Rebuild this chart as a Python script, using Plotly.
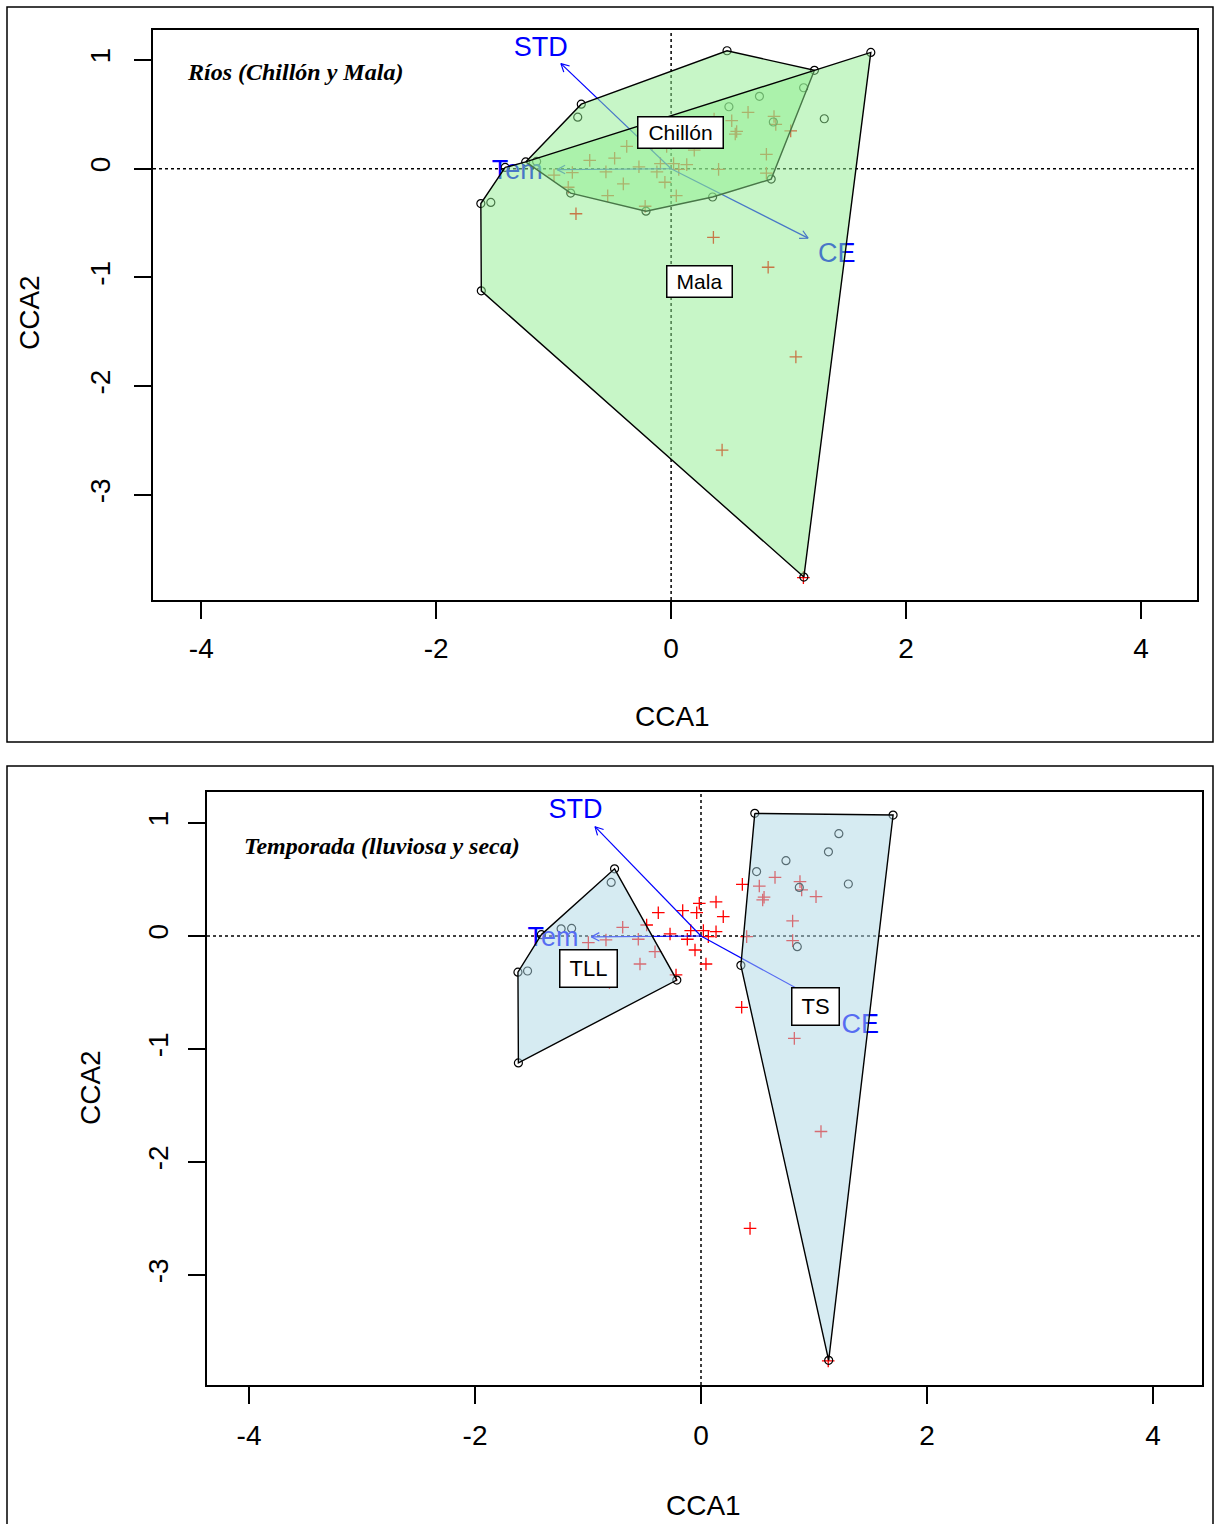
import math
import plotly.graph_objects as go

W, H = 1214, 1524

# ---- CCA scores -------------------------------------------------------
# species scores (red "+")
spp_x = [0.366, 0.655, 0.516, 0.876, 0.891, 0.558, 0.546, 1.018, 0.811, 0.811,
         0.404, 0.133, -0.015, -0.038, 0.197, -0.162, -0.378, 0.021, 0.133, -0.091,
         0.065, -0.121, -0.053, 0.044, -0.274, -0.481, -0.693, -0.555, -0.407, -0.540,
         -0.841, -0.997, -0.221, 0.360, 0.826, 1.062, 0.434, 1.126, -0.876, -0.810]
spp_y = [0.457, 0.519, 0.442, 0.481, 0.408, 0.343, 0.319, 0.348, 0.133, -0.041,
         -0.006, 0.301, 0.289, 0.206, 0.171, 0.224, 0.206, 0.047, 0.038, 0.047,
         -0.006, -0.029, -0.124, -0.248, 0.018, 0.097, 0.077, -0.029, -0.139, -0.248,
         -0.035, -0.059, -0.345, -0.631, -0.906, -1.730, -2.587, -3.760, -0.170, -0.414]

# site scores (open circles)
site_x = [0.476, 1.700, 1.220, 1.128, 0.752, 0.492, 0.870, 1.304, -0.765, -0.795,
          -1.238, -1.145, -1.413, -1.620, -1.535, -0.855, -0.214, 0.353, 0.852, -1.616,
          1.130]
site_y = [1.085, 1.070, 0.905, 0.745, 0.666, 0.570, 0.430, 0.460, 0.594, 0.474,
          0.063, 0.067, 0.012, -0.320, -0.310, -0.224, -0.390, -0.260, -0.095, -1.123,
          -3.755]

# environmental biplot arrows
env_names = ["STD", "Tem", "CE"]
env_x = [-0.938, -0.970, 1.166]
env_y = [0.967, -0.008, -0.638]
env_lab_x = [-1.11, -1.31, 1.41]
env_lab_y = [1.10, -0.03, -0.80]

# convex hulls (site indices, in drawing order)
hull_chillon = [10, 8, 0, 2, 18, 17, 16, 15]
hull_mala = [12, 10, 2, 1, 20, 19, 13]
hull_tll = [12, 8, 16, 19, 13]
hull_ts = [0, 1, 20, 17]

# group labels
rio_names = ["Chillón", "Mala"]
rio_lab_x = [0.077, 0.239]
rio_lab_y = [0.331, -1.040]
temp_names = ["TLL", "TS"]
temp_lab_x = [-1.000, 1.009]
temp_lab_y = [-0.292, -0.628]

x_ticks = [-4, -2, 0, 2, 4]
y_ticks = [1, 0, -1, -2, -3]

panel_titles = ["Ríos (Chillón y Mala)", "Temporada (lluviosa y seca)"]

# ---- panel geometry --------------------------------------------------
X1_DOM = [153 / W, 1197 / W]
Y1_DOM = [1 - 600 / H, 1 - 30 / H]
X1_RNG = [-4.411, 4.477]
Y1_RNG = [-3.966, 1.276]

X2_DOM = [207 / W, 1202 / W]
Y2_DOM = [1 - 1385 / H, 1 - 792 / H]
X2_RNG = [-4.372, 4.434]
Y2_RNG = [-3.973, 1.274]

SANS = "Liberation Sans, Arial, sans-serif"
SERIF = "Liberation Serif, Times New Roman, serif"
BLUE = "#0000FF"


def scale(xr, yr, xd, yd):
    return ((xd[1] - xd[0]) * W / (xr[1] - xr[0]),
            (yd[1] - yd[0]) * H / (yr[1] - yr[0]))


def arrows(sx, sy, head=9.0, ang=math.radians(28)):
    """Biplot arrow shafts from the origin plus open V heads."""
    xs, ys = [], []
    for x1, y1 in zip(env_x, env_y):
        xs += [0, x1, None]
        ys += [0, y1, None]
        px, py = x1 * sx, y1 * sy
        L = math.hypot(px, py)
        ux, uy = px / L, py / L
        hx, hy = [], []
        for s in (1, -1):
            c, sn = math.cos(s * ang), math.sin(s * ang)
            bx, by = ux * c - uy * sn, ux * sn + uy * c
            hx.append(x1 - head * bx / sx)
            hy.append(y1 - head * by / sy)
        xs += [hx[0], x1, hx[1], None]
        ys += [hy[0], y1, hy[1], None]
    return xs, ys


def hull(idx):
    return ([site_x[i] for i in idx] + [site_x[idx[0]]],
            [site_y[i] for i in idx] + [site_y[idx[0]]])


fig = go.Figure()


def add_panel(xa, ya, sx, sy, hulls):
    fig.add_trace(go.Scatter(x=spp_x, y=spp_y, mode="markers", xaxis=xa, yaxis=ya,
                             marker=dict(symbol="cross-thin-open", size=9, color="red",
                                         line=dict(color="red", width=1.3))))
    fig.add_trace(go.Scatter(x=site_x, y=site_y, mode="markers", xaxis=xa, yaxis=ya,
                             marker=dict(symbol="circle-open", size=8, color="black",
                                         line=dict(color="black", width=1.2))))
    ax, ay = arrows(sx, sy)
    fig.add_trace(go.Scatter(x=ax, y=ay, mode="lines", xaxis=xa, yaxis=ya,
                             line=dict(color=BLUE, width=1.2)))
    fig.add_trace(go.Scatter(x=env_lab_x, y=env_lab_y, text=env_names, mode="text",
                             xaxis=xa, yaxis=ya, textposition="middle center",
                             textfont=dict(family=SANS, size=27, color=BLUE)))
    for idx, fill in hulls:
        hx, hy = hull(idx)
        fig.add_trace(go.Scatter(x=hx, y=hy, mode="lines", fill="toself",
                                 fillcolor=fill, xaxis=xa, yaxis=ya,
                                 line=dict(color="black", width=1.4)))


sx1, sy1 = scale(X1_RNG, Y1_RNG, X1_DOM, Y1_DOM)
sx2, sy2 = scale(X2_RNG, Y2_RNG, X2_DOM, Y2_DOM)
GREEN = "rgba(144,238,144,0.5)"
LBLUE = "rgba(173,216,230,0.5)"
add_panel("x", "y", sx1, sy1, [(hull_chillon, GREEN), (hull_mala, GREEN)])
add_panel("x2", "y2", sx2, sy2, [(hull_tll, LBLUE), (hull_ts, LBLUE)])

axis_common = dict(showgrid=False, zeroline=False, showline=True, mirror=True,
                   linecolor="black", linewidth=1.5, ticks="outside", ticklen=17,
                   tickwidth=1.5, tickcolor="black",
                   tickfont=dict(family=SANS, size=28, color="black"))


def xt(standoff):
    return dict(tickmode="array", tickvals=x_ticks, ticktext=[str(v) for v in x_ticks],
                ticklabelstandoff=standoff)


def yt(standoff):
    return dict(tickmode="array", tickvals=y_ticks, ticktext=[str(v) for v in y_ticks],
                tickangle=-90, ticklabelstandoff=standoff)


fig.update_layout(
    width=W, height=H, autosize=False, showlegend=False,
    margin=dict(l=0, r=0, t=0, b=0),
    paper_bgcolor="white", plot_bgcolor="white",
    xaxis=dict(domain=X1_DOM, range=X1_RNG, anchor="y", **axis_common, **xt(6)),
    yaxis=dict(domain=Y1_DOM, range=Y1_RNG, anchor="x", **axis_common, **yt(13)),
    xaxis2=dict(domain=X2_DOM, range=X2_RNG, anchor="y2", **axis_common, **xt(8)),
    yaxis2=dict(domain=Y2_DOM, range=Y2_RNG, anchor="x2", **axis_common, **yt(9)),
)

shapes = []
# dotted reference lines through the origin
for xr, yr in (("x", "y"), ("x2", "y2")):
    shapes.append(dict(type="line", xref=xr, yref=yr + " domain", x0=0, x1=0, y0=0, y1=1,
                       line=dict(color="black", width=1.5, dash="dot"), layer="below"))
    shapes.append(dict(type="line", xref=xr + " domain", yref=yr, x0=0, x1=1, y0=0, y1=0,
                       line=dict(color="black", width=1.5, dash="dot"), layer="below"))
# panel frames
shapes.append(dict(type="rect", xref="paper", yref="paper", x0=7 / W, x1=1213 / W,
                   y0=1 - 742 / H, y1=1 - 7 / H, line=dict(color="black", width=1.5)))
shapes.append(dict(type="rect", xref="paper", yref="paper", x0=7 / W, x1=1213 / W,
                   y0=-0.02, y1=1 - 766 / H, line=dict(color="black", width=1.5)))
fig.update_layout(shapes=shapes)

ann = []
for name, x, y, bw in zip(rio_names, rio_lab_x, rio_lab_y, (78, 58)):
    ann.append(dict(x=x, y=y, xref="x", yref="y", text=name, showarrow=False,
                    xanchor="center", yanchor="middle", width=bw, height=24,
                    font=dict(family=SANS, size=21, color="black"), bgcolor="white",
                    bordercolor="black", borderwidth=1.5, borderpad=3))
for name, x, y, bw in zip(temp_names, temp_lab_x, temp_lab_y, (50, 40)):
    ann.append(dict(x=x, y=y, xref="x2", yref="y2", text=name, showarrow=False,
                    xanchor="center", yanchor="middle", width=bw, height=30,
                    font=dict(family=SANS, size=22, color="black"), bgcolor="white",
                    bordercolor="black", borderwidth=1.5, borderpad=3))
# panel captions
ann.append(dict(x=185 / W, y=1 - 72 / H, xref="paper", yref="paper", xanchor="left",
                yanchor="middle", text="<b><i>" + panel_titles[0] + "</i></b>",
                showarrow=False, font=dict(family=SERIF, size=24, color="black")))
ann.append(dict(x=242 / W, y=1 - 846 / H, xref="paper", yref="paper", xanchor="left",
                yanchor="middle", text="<b><i>" + panel_titles[1] + "</i></b>",
                showarrow=False, font=dict(family=SERIF, size=24, color="black")))
# axis titles
for (cx, cy), (rx, ry) in (((672, 716), (30, 313)), ((703, 1505), (90, 1088))):
    ann.append(dict(x=cx / W, y=1 - cy / H, xref="paper", yref="paper", text="CCA1",
                    xanchor="center", yanchor="middle", showarrow=False,
                    font=dict(family=SANS, size=28, color="black")))
    ann.append(dict(x=rx / W, y=1 - ry / H, xref="paper", yref="paper", text="CCA2",
                    xanchor="center", yanchor="middle", textangle=-90, showarrow=False,
                    font=dict(family=SANS, size=28, color="black")))
fig.update_layout(annotations=ann)

fig.write_html("out.html")
